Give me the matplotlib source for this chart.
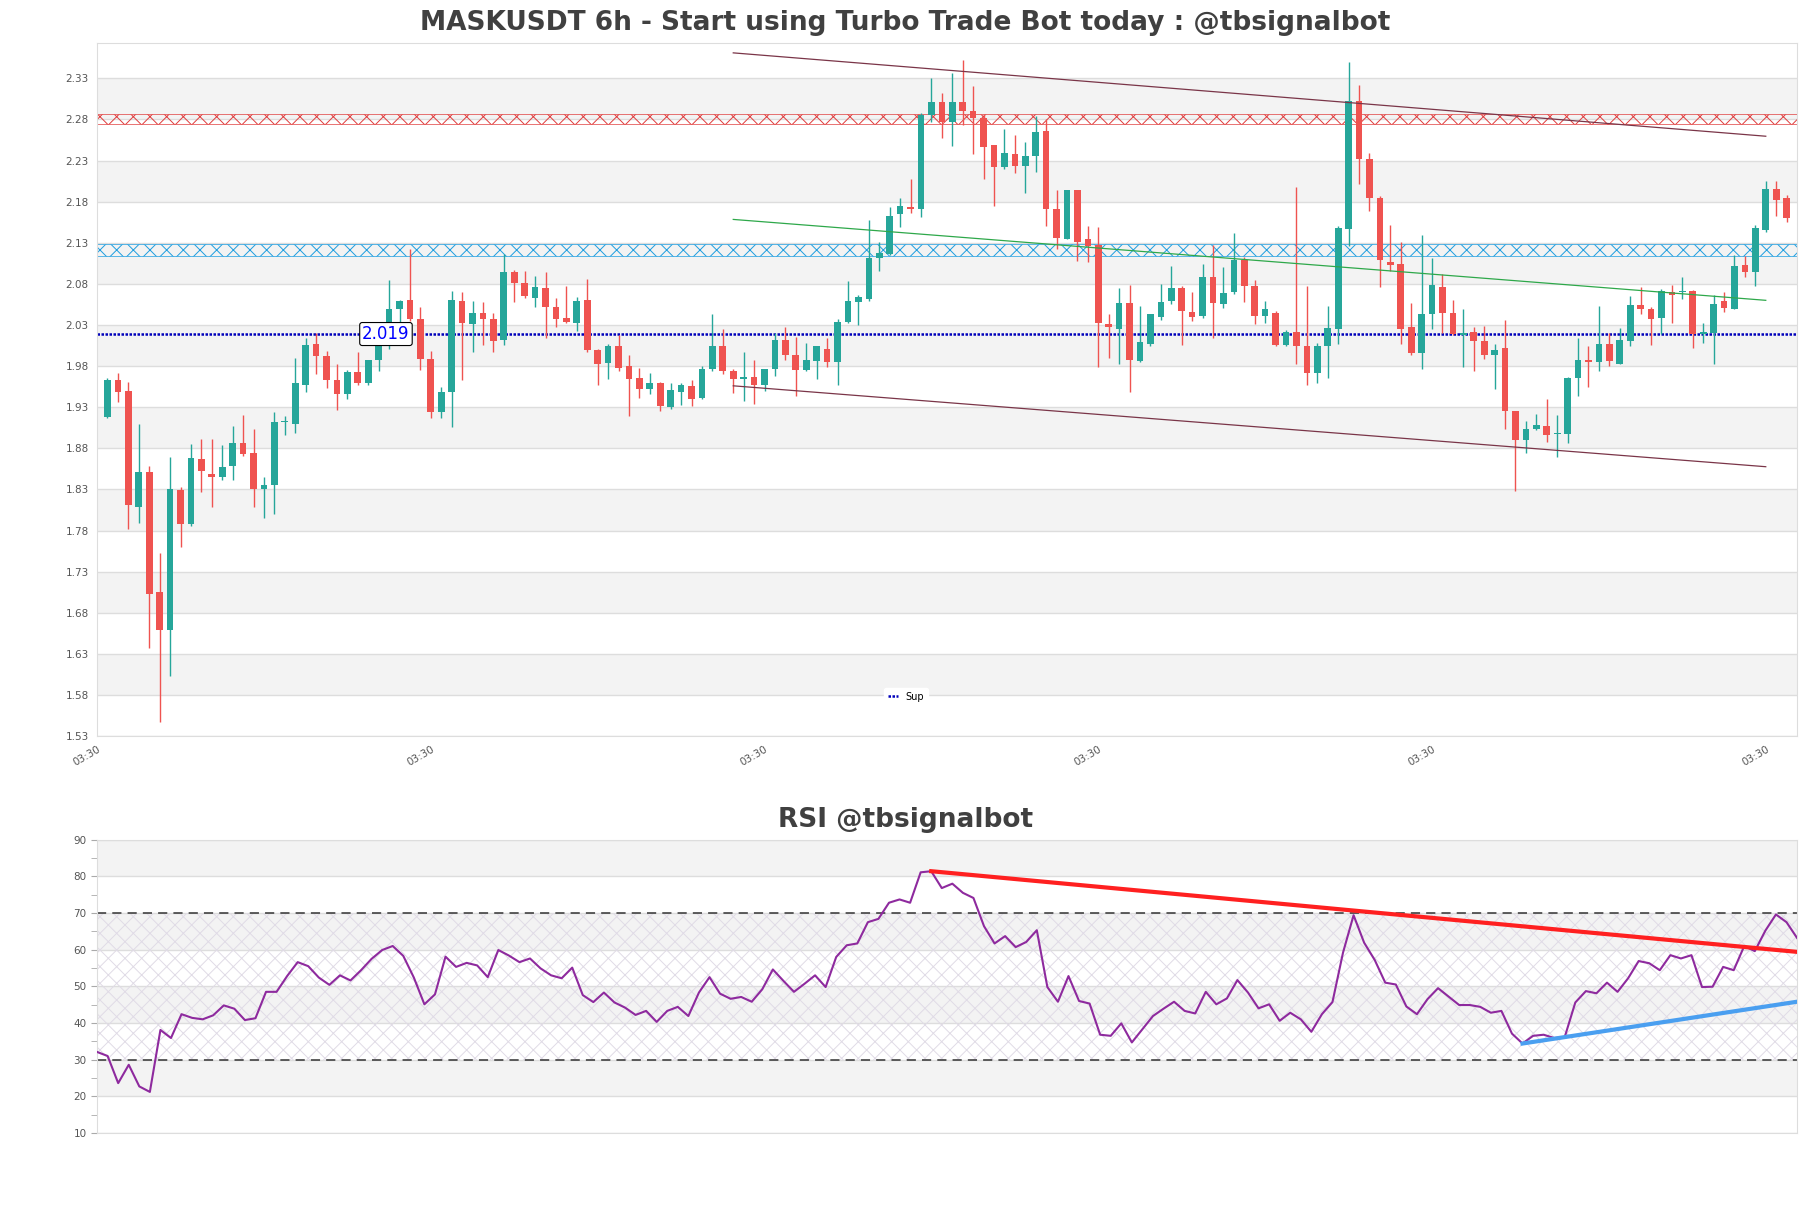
import matplotlib
matplotlib.use('Agg')
import matplotlib.pyplot as plt
import numpy as np

# candle data (6h)
opens = [1.918, 1.963, 1.950, 1.808, 1.851, 1.705, 1.659, 1.829, 1.788, 1.867,
         1.849, 1.845, 1.858, 1.887, 1.874, 1.831, 1.835, 1.912, 1.910, 1.957,
         2.007, 1.992, 1.963, 1.946, 1.973, 1.960, 1.987, 2.012, 2.049, 2.060,
         2.037, 1.989, 1.924, 1.948, 2.059, 2.031, 2.045, 2.037, 2.012, 2.094,
         2.081, 2.063, 2.075, 2.052, 2.039, 2.033, 2.060, 1.999, 1.984, 2.004,
         1.980, 1.966, 1.952, 1.959, 1.930, 1.948, 1.956, 1.941, 1.976, 2.005,
         1.974, 1.964, 1.967, 1.957, 1.976, 2.012, 1.994, 1.975, 1.986, 2.001,
         1.985, 2.034, 2.058, 2.062, 2.112, 2.116, 2.165, 2.174, 2.171, 2.286,
         2.301, 2.277, 2.301, 2.290, 2.282, 2.249, 2.222, 2.238, 2.223, 2.236,
         2.266, 2.171, 2.135, 2.194, 2.134, 2.127, 2.031, 2.025, 2.057, 1.986,
         2.007, 2.040, 2.059, 2.075, 2.046, 2.041, 2.088, 2.055, 2.070, 2.109,
         2.077, 2.041, 2.044, 2.006, 2.021, 2.004, 1.972, 2.005, 2.025, 2.147,
         2.303, 2.232, 2.184, 2.107, 2.104, 2.027, 1.996, 2.043, 2.076, 2.045,
         2.018, 2.021, 2.011, 1.994, 2.002, 1.925, 1.890, 1.904, 1.907, 1.897,
         1.898, 1.965, 1.988, 1.985, 2.007, 1.983, 2.010, 2.054, 2.050, 2.039,
         2.070, 2.070, 2.071, 2.019, 2.020, 2.059, 2.050, 2.103, 2.094, 2.146,
         2.196, 2.184]
highs = [1.965, 1.971, 1.961, 1.910, 1.858, 1.753, 1.870, 1.833, 1.885, 1.891,
         1.891, 1.884, 1.907, 1.921, 1.903, 1.845, 1.924, 1.919, 1.990, 2.014,
         2.020, 1.998, 1.983, 1.975, 1.997, 1.988, 2.020, 2.085, 2.060, 2.123,
         2.052, 1.998, 1.954, 2.071, 2.070, 2.059, 2.058, 2.044, 2.116, 2.097,
         2.096, 2.090, 2.095, 2.063, 2.078, 2.064, 2.086, 2.001, 2.007, 2.018,
         1.994, 1.978, 1.971, 1.961, 1.959, 1.959, 1.963, 1.980, 2.043, 2.025,
         1.976, 1.997, 1.988, 1.977, 2.020, 2.027, 2.015, 2.008, 2.005, 2.014,
         2.037, 2.084, 2.067, 2.158, 2.131, 2.173, 2.185, 2.207, 2.288, 2.330,
         2.312, 2.337, 2.352, 2.321, 2.287, 2.249, 2.268, 2.261, 2.253, 2.284,
         2.281, 2.194, 2.194, 2.194, 2.150, 2.149, 2.043, 2.075, 2.079, 2.053,
         2.043, 2.080, 2.102, 2.077, 2.070, 2.104, 2.127, 2.100, 2.142, 2.113,
         2.085, 2.059, 2.047, 2.024, 2.198, 2.077, 2.008, 2.053, 2.150, 2.350,
         2.322, 2.239, 2.187, 2.152, 2.131, 2.057, 2.139, 2.112, 2.092, 2.060,
         2.049, 2.028, 2.029, 2.007, 2.036, 1.925, 1.913, 1.922, 1.940, 1.921,
         1.967, 2.014, 2.004, 2.053, 2.020, 2.026, 2.065, 2.076, 2.052, 2.074,
         2.079, 2.088, 2.072, 2.032, 2.066, 2.070, 2.115, 2.114, 2.152, 2.205,
         2.205, 2.188]
lows = [1.917, 1.936, 1.782, 1.789, 1.637, 1.547, 1.603, 1.760, 1.786, 1.827,
        1.808, 1.841, 1.841, 1.871, 1.808, 1.795, 1.800, 1.896, 1.899, 1.948,
        1.970, 1.953, 1.927, 1.940, 1.957, 1.957, 1.974, 2.001, 2.034, 2.035,
        1.975, 1.917, 1.917, 1.906, 1.963, 1.997, 2.006, 1.997, 2.006, 2.058,
        2.063, 2.052, 2.014, 2.027, 2.033, 2.023, 1.997, 1.957, 1.964, 1.974,
        1.919, 1.941, 1.946, 1.925, 1.928, 1.933, 1.931, 1.940, 1.974, 1.970,
        1.947, 1.938, 1.934, 1.950, 1.968, 1.988, 1.944, 1.974, 1.964, 1.979,
        1.957, 2.033, 2.030, 2.059, 2.096, 2.115, 2.149, 2.166, 2.161, 2.277,
        2.258, 2.248, 2.273, 2.238, 2.208, 2.175, 2.220, 2.215, 2.191, 2.216,
        2.150, 2.123, 2.134, 2.108, 2.107, 1.979, 1.990, 1.982, 1.948, 1.985,
        2.004, 2.036, 2.055, 2.006, 2.035, 2.039, 2.014, 2.051, 2.068, 2.058,
        2.031, 2.032, 2.005, 2.005, 1.983, 1.957, 1.959, 1.965, 2.007, 2.126,
        2.201, 2.169, 2.076, 2.096, 2.007, 1.993, 1.976, 2.025, 2.020, 2.018,
        1.979, 1.974, 1.989, 1.952, 1.904, 1.828, 1.874, 1.902, 1.888, 1.870,
        1.887, 1.944, 1.955, 1.974, 1.980, 1.982, 2.004, 2.043, 2.006, 2.019,
        2.032, 2.062, 2.002, 2.008, 1.982, 2.046, 2.049, 2.088, 2.078, 2.143,
        2.163, 2.155]
closes = [1.963, 1.949, 1.811, 1.851, 1.703, 1.659, 1.830, 1.788, 1.868, 1.852,
          1.845, 1.857, 1.887, 1.873, 1.830, 1.835, 1.912, 1.913, 1.959, 2.006,
          1.992, 1.963, 1.946, 1.973, 1.959, 1.987, 2.012, 2.049, 2.059, 2.037,
          1.989, 1.924, 1.948, 2.060, 2.033, 2.045, 2.037, 2.010, 2.094, 2.081,
          2.065, 2.076, 2.052, 2.037, 2.034, 2.059, 1.999, 1.983, 2.004, 1.978,
          1.964, 1.952, 1.959, 1.932, 1.951, 1.957, 1.940, 1.976, 2.005, 1.974,
          1.964, 1.967, 1.957, 1.976, 2.012, 1.994, 1.975, 1.987, 2.004, 1.985,
          2.034, 2.059, 2.064, 2.112, 2.118, 2.162, 2.175, 2.171, 2.286, 2.301,
          2.277, 2.301, 2.290, 2.282, 2.246, 2.222, 2.239, 2.223, 2.235, 2.265,
          2.171, 2.136, 2.194, 2.131, 2.126, 2.033, 2.027, 2.057, 1.988, 2.009,
          2.043, 2.058, 2.075, 2.047, 2.040, 2.088, 2.057, 2.069, 2.109, 2.078,
          2.041, 2.050, 2.006, 2.021, 2.004, 1.972, 2.005, 2.026, 2.148, 2.302,
          2.232, 2.185, 2.109, 2.103, 2.025, 1.996, 2.043, 2.079, 2.045, 2.019,
          2.020, 2.011, 1.993, 1.999, 1.925, 1.890, 1.903, 1.908, 1.896, 1.898,
          1.965, 1.988, 1.985, 2.007, 1.986, 2.012, 2.054, 2.049, 2.037, 2.071,
          2.066, 2.071, 2.019, 2.021, 2.055, 2.051, 2.102, 2.094, 2.148, 2.195,
          2.182, 2.160]

rsi = [32.1, 31.0, 23.6, 28.6, 22.7, 21.2, 38.1, 35.9, 42.4, 41.4,
       41.0, 42.1, 44.8, 43.9, 40.8, 41.3, 48.5, 48.5, 52.8, 56.6,
       55.5, 52.4, 50.4, 53.0, 51.6, 54.4, 57.5, 59.9, 61.0, 58.3,
       52.4, 45.1, 47.8, 58.1, 55.3, 56.4, 55.7, 52.5, 59.9, 58.4,
       56.6, 57.6, 54.9, 53.0, 52.2, 55.1, 47.6, 45.7, 48.3, 45.6,
       44.2, 42.2, 43.3, 40.3, 43.3, 44.4, 41.9, 48.3, 52.5, 48.0,
       46.6, 47.1, 45.8, 49.2, 54.6, 51.5, 48.5, 50.7, 53.0, 49.8,
       58.0, 61.2, 61.7, 67.5, 68.4, 72.8, 73.7, 72.8, 81.1, 81.4,
       76.8, 78.0, 75.5, 74.1, 66.4, 61.7, 63.7, 60.7, 62.1, 65.3,
       49.8, 45.8, 52.8, 46.0, 45.3, 36.8, 36.5, 39.9, 34.7, 38.3,
       41.9, 43.9, 45.8, 43.3, 42.6, 48.5, 45.1, 46.7, 51.7, 48.3,
       44.0, 45.1, 40.6, 42.8, 41.0, 37.6, 42.4, 45.7, 59.2, 69.4,
       61.9, 57.2, 51.0, 50.5, 44.5, 42.4, 46.5, 49.5, 47.2, 44.9,
       44.9, 44.4, 42.8, 43.3, 37.1, 34.4, 36.5, 36.8, 35.9, 36.2,
       45.6, 48.7, 48.1, 51.0, 48.5, 52.2, 56.9, 56.3, 54.4, 58.5,
       57.6, 58.5, 49.8, 49.9, 55.3, 54.4, 61.0, 59.6, 65.2, 69.6,
       67.5, 63.2]

# levels and trend lines
sup_level = 2.019
res_zone = (2.274, 2.287)
mid_zone = (2.114, 2.128)
channel_x = [60, 159]
channel_top = [2.361, 2.2596]
channel_bottom = [1.956, 1.8576]
channel_mid = [2.1584, 2.060]
rsi_down_x = [79, 161]
rsi_down_y = [81.4, 59.4]
rsi_up_x = [135, 161]
rsi_up_y = [34.4, 45.8]
xtick_pos = [-1, 31, 63, 95, 127, 159]
xtick_labels = ['03:30'] * 6

UP = '#26a69a'
DOWN = '#ef5350'
GRAY = '#f3f3f3'
GRID = '#dddddd'

plt.rcParams['hatch.linewidth'] = 0.7

fig = plt.figure(figsize=(18.11, 12.08), dpi=100)
ax = fig.add_axes([0.0536, 0.3907, 0.9387, 0.5737])
rax = fig.add_axes([0.0536, 0.0621, 0.9387, 0.2428])

n = len(closes)
x = np.arange(n)
o = np.array(opens)
c = np.array(closes)
colors = [UP if cc >= oo else DOWN for oo, cc in zip(o, c)]

# background bands
ax.set_ylim(1.53, 2.373)
ax.set_xlim(-1, n)
yt = np.round(np.arange(1.53, 2.335, 0.05), 2)
for k in range(len(yt) - 1):
    if k % 2 == 1:
        ax.axhspan(yt[k], yt[k + 1], color=GRAY, lw=0, zorder=0)
for y in yt:
    ax.axhline(y, color=GRID, lw=1, zorder=0.5)

# zones
ax.axhspan(*res_zone, facecolor='none', edgecolor='#e03c3c', hatch='xx', lw=0.5, zorder=1)
ax.axhspan(*mid_zone, facecolor='none', edgecolor='#1e9ee0', hatch='xx', lw=0.5, zorder=1)

# candles
ax.vlines(x, lows, highs, colors=colors, lw=1, zorder=3)
bottoms = np.minimum(o, c)
heights = np.maximum(np.abs(c - o), 0.0012)
ax.bar(x, heights, bottom=bottoms, width=0.64, color=colors, zorder=4)

# support line + label
ax.axhline(sup_level, color='#0000bb', ls=(0, (1, 0.6)), lw=1.8, label='Sup', zorder=2)
ax.text(26.7, sup_level, '2.019', color='blue', fontsize=12, ha='center', va='center', zorder=6,
        bbox=dict(boxstyle='round,pad=0.15', fc='white', ec='black', lw=0.8))

# channel
ax.plot(channel_x, channel_top, color='#7a3548', lw=0.9, zorder=5)
ax.plot(channel_x, channel_bottom, color='#7a3548', lw=0.9, zorder=5)
ax.plot(channel_x, channel_mid, color='#2ea84a', lw=0.9, zorder=5)

ax.set_yticks(yt)
ax.set_yticklabels(['%.2f' % v for v in yt], fontsize=7.5, color='#555555')
ax.set_xticks(xtick_pos)
ax.set_xticklabels(xtick_labels, fontsize=7.5, color='#555555', rotation=30, ha='right',
                   rotation_mode='anchor')
ax.tick_params(axis='both', length=0, pad=6)
for s in ax.spines.values():
    s.set_color(GRID)
leg = ax.legend(loc='center', bbox_to_anchor=(0.476, 0.057), fontsize=7, frameon=True,
                framealpha=1, edgecolor='white', handlelength=1.0)

fig.text(0.5, 0.981, 'MASKUSDT 6h - Start using Turbo Trade Bot today : @tbsignalbot',
         ha='center', va='center', fontsize=19, fontweight='bold', color='#404040')

# RSI panel
rx = np.arange(len(rsi))
rax.set_xlim(0, len(rsi) - 1)
rax.set_ylim(10, 90)
for lo in [20, 40, 60, 80]:
    rax.axhspan(lo, lo + 10, color=GRAY, lw=0, zorder=0)
for y in range(10, 91, 10):
    rax.axhline(y, color=GRID, lw=1, zorder=0.5)
rax.axhspan(30, 70, facecolor='none', edgecolor='#e0dbe6', hatch='xx', lw=0, zorder=1)
rax.axhline(70, color='#333333', ls=(0, (6, 4)), lw=1.1, zorder=2)
rax.axhline(30, color='#333333', ls=(0, (6, 4)), lw=1.1, zorder=2)
rax.plot(rx, rsi, color='#8e2a9e', lw=1.5, zorder=3)
rax.plot(rsi_down_x, rsi_down_y, color='#ff2020', lw=3, zorder=4)
rax.plot(rsi_up_x, rsi_up_y, color='#4a9ff0', lw=3, zorder=4)
rax.set_yticks(range(10, 91, 10))
rax.set_yticks(range(15, 90, 10), minor=True)
rax.tick_params(axis='y', which='both', labelsize=7.5, labelcolor='#555555', color='#aaaaaa', length=4)
rax.set_xticks([])
for s in rax.spines.values():
    s.set_color(GRID)

fig.text(0.5, 0.3212, 'RSI @tbsignalbot', ha='center', va='center', fontsize=19,
         fontweight='bold', color='#404040')

plt.savefig('out.png')
